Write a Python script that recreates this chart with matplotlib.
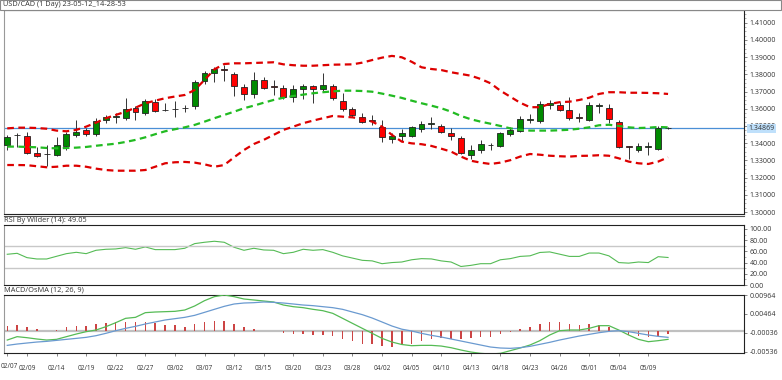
import numpy as np
import matplotlib.pyplot as plt
from matplotlib.patches import Rectangle
from matplotlib.ticker import FixedLocator, MultipleLocator, FormatStrFormatter

plt.rcParams['font.family'] = ['Open Sans', 'DejaVu Sans']

# daily candles USD/CAD
opens = [1.3390, 1.3445, 1.3444, 1.3345, 1.3337, 1.3331, 1.3384, 1.3446, 1.3477, 1.3452,
         1.3536, 1.3554, 1.3545, 1.3606, 1.3577, 1.3638, 1.3593, 1.3599, 1.3604, 1.3616,
         1.3760, 1.3810, 1.3831, 1.3802, 1.3728, 1.3688, 1.3765, 1.3730, 1.3719, 1.3667,
         1.3717, 1.3733, 1.3717, 1.3733, 1.3647, 1.3597, 1.3550, 1.3532, 1.3492, 1.3423,
         1.3442, 1.3442, 1.3481, 1.3513, 1.3497, 1.3457, 1.3428, 1.3330, 1.3360, 1.3387,
         1.3384, 1.3453, 1.3473, 1.3533, 1.3527, 1.3620, 1.3624, 1.3593, 1.3550, 1.3536,
         1.3618, 1.3606, 1.3524, 1.3381, 1.3360, 1.3380, 1.3366, 1.3489]
highs = [1.3448, 1.3457, 1.3467, 1.3380, 1.3390, 1.3438, 1.3467, 1.3535, 1.3487, 1.3545,
         1.3562, 1.3577, 1.3661, 1.3618, 1.3655, 1.3655, 1.3635, 1.3647, 1.3624, 1.3767,
         1.3820, 1.3845, 1.3854, 1.3813, 1.3746, 1.3813, 1.3784, 1.3767, 1.3740, 1.3738,
         1.3744, 1.3736, 1.3806, 1.3744, 1.3690, 1.3612, 1.3574, 1.3562, 1.3535, 1.3461,
         1.3484, 1.3500, 1.3531, 1.3550, 1.3510, 1.3487, 1.3442, 1.3390, 1.3419, 1.3399,
         1.3467, 1.3496, 1.3558, 1.3568, 1.3647, 1.3651, 1.3639, 1.3667, 1.3574, 1.3638,
         1.3635, 1.3626, 1.3535, 1.3384, 1.3399, 1.3409, 1.3500, 1.3492]
lows = [1.3360, 1.3376, 1.3335, 1.3322, 1.3269, 1.3325, 1.3360, 1.3438, 1.3442, 1.3442,
        1.3515, 1.3515, 1.3535, 1.3535, 1.3562, 1.3583, 1.3587, 1.3554, 1.3583, 1.3597,
        1.3744, 1.3754, 1.3761, 1.3676, 1.3651, 1.3661, 1.3713, 1.3680, 1.3655, 1.3641,
        1.3655, 1.3632, 1.3703, 1.3651, 1.3589, 1.3554, 1.3515, 1.3506, 1.3407, 1.3400,
        1.3414, 1.3435, 1.3467, 1.3483, 1.3457, 1.3419, 1.3335, 1.3308, 1.3341, 1.3360,
        1.3376, 1.3442, 1.3467, 1.3519, 1.3519, 1.3597, 1.3585, 1.3535, 1.3525, 1.3529,
        1.3574, 1.3515, 1.3371, 1.3308, 1.3351, 1.3332, 1.3360, 1.3482]
closes = [1.3438, 1.3448, 1.3341, 1.3327, 1.3335, 1.3390, 1.3453, 1.3467, 1.3453, 1.3529,
          1.3550, 1.3556, 1.3597, 1.3579, 1.3643, 1.3589, 1.3591, 1.3598, 1.3607, 1.3755,
          1.3810, 1.3829, 1.3828, 1.3734, 1.3688, 1.3765, 1.3722, 1.3729, 1.3668, 1.3713,
          1.3733, 1.3717, 1.3740, 1.3664, 1.3600, 1.3562, 1.3523, 1.3529, 1.3438, 1.3442,
          1.3457, 1.3492, 1.3510, 1.3515, 1.3464, 1.3442, 1.3341, 1.3360, 1.3394, 1.3389,
          1.3457, 1.3477, 1.3539, 1.3542, 1.3626, 1.3634, 1.3593, 1.3548, 1.3548, 1.3622,
          1.3619, 1.3542, 1.3380, 1.3379, 1.3384, 1.3381, 1.3490, 1.34869]

# bollinger bands (20, 2) as shown
bb_upper = [1.3486, 1.3490, 1.3490, 1.3488, 1.3484, 1.3473, 1.3469, 1.3477, 1.3496, 1.3519,
            1.3545, 1.3564, 1.3583, 1.3606, 1.3632, 1.3647, 1.3661, 1.3671, 1.3680, 1.3709,
            1.3767, 1.3829, 1.3860, 1.3864, 1.3864, 1.3866, 1.3868, 1.3870, 1.3858, 1.3853,
            1.3850, 1.3850, 1.3853, 1.3856, 1.3857, 1.3858, 1.3868, 1.3883, 1.3897, 1.3907,
            1.3899, 1.3873, 1.3841, 1.3831, 1.3825, 1.3812, 1.3802, 1.3792, 1.3773, 1.3748,
            1.3705, 1.3670, 1.3635, 1.3609, 1.3609, 1.3628, 1.3638, 1.3641, 1.3651, 1.3664,
            1.3686, 1.3696, 1.3696, 1.3693, 1.3693, 1.3692, 1.3690, 1.3686]
bb_middle = [1.3380, 1.3380, 1.3378, 1.3376, 1.3372, 1.3370, 1.3372, 1.3374, 1.3378, 1.3385,
             1.3391, 1.3397, 1.3407, 1.3419, 1.3434, 1.3452, 1.3469, 1.3481, 1.3492, 1.3506,
             1.3525, 1.3545, 1.3564, 1.3583, 1.3603, 1.3618, 1.3635, 1.3651, 1.3664, 1.3674,
             1.3682, 1.3690, 1.3696, 1.3701, 1.3705, 1.3705, 1.3703, 1.3699, 1.3688, 1.3676,
             1.3663, 1.3647, 1.3632, 1.3618, 1.3603, 1.3583, 1.3558, 1.3539, 1.3525, 1.3513,
             1.3500, 1.3486, 1.3478, 1.3473, 1.3473, 1.3473, 1.3475, 1.3478, 1.3484, 1.3492,
             1.3504, 1.3507, 1.3500, 1.3492, 1.3488, 1.3490, 1.3494, 1.3492]
bb_lower = [1.3273, 1.3273, 1.3272, 1.3266, 1.3260, 1.3263, 1.3269, 1.3269, 1.3263, 1.3252,
            1.3244, 1.3240, 1.3240, 1.3240, 1.3244, 1.3263, 1.3283, 1.3289, 1.3291, 1.3287,
            1.3277, 1.3263, 1.3273, 1.3318, 1.3360, 1.3395, 1.3419, 1.3448, 1.3477, 1.3496,
            1.3516, 1.3531, 1.3545, 1.3558, 1.3554, 1.3550, 1.3541, 1.3525, 1.3496, 1.3448,
            1.3409, 1.3399, 1.3394, 1.3384, 1.3368, 1.3351, 1.3322, 1.3298, 1.3287, 1.3279,
            1.3287, 1.3301, 1.3322, 1.3337, 1.3333, 1.3327, 1.3324, 1.3322, 1.3326, 1.3327,
            1.3330, 1.3327, 1.3312, 1.3293, 1.3283, 1.3279, 1.3293, 1.3318]

rsi = [54.8, 56.5, 48.8, 46.4, 46.4, 51.2, 55.9, 58.3, 55.9, 61.9,
       63.7, 64.3, 66.7, 63.7, 67.9, 63.1, 63.1, 63.1, 65.5, 73.8,
       76.2, 78.0, 76.2, 67.3, 61.9, 65.5, 62.5, 61.9, 55.9, 58.3,
       63.7, 61.9, 63.1, 58.3, 52.0, 48.0, 44.0, 43.0, 38.0, 40.0,
       41.0, 45.0, 47.0, 46.5, 43.0, 41.0, 33.0, 35.0, 38.0, 38.0,
       45.0, 47.0, 51.0, 52.0, 58.0, 59.0, 55.0, 51.0, 51.0, 57.0,
       57.0, 52.0, 40.0, 39.0, 41.0, 40.0, 50.5, 49.05]

macd_main = [-0.00227, -0.00138, -0.00165, -0.00200, -0.00227, -0.00209, -0.00138, -0.00068, -0.00006, 0.00038,
             0.00126, 0.00232, 0.00347, 0.00373, 0.00497, 0.00514, 0.00523, 0.00532, 0.00567, 0.00673,
             0.00814, 0.00920, 0.00964, 0.00920, 0.00858, 0.00832, 0.00805, 0.00779, 0.00699, 0.00655,
             0.00629, 0.00585, 0.00549, 0.00479, 0.00347, 0.00214, 0.00082, -0.00050, -0.00183, -0.00280,
             -0.00345, -0.00377, -0.00368, -0.00368, -0.00386, -0.00430, -0.00491, -0.00544, -0.00579, -0.00597,
             -0.00579, -0.00509, -0.00438, -0.00359, -0.00244, -0.00094, 0.00020, 0.00038, 0.00038, 0.00082,
             0.00153, 0.00153, 0.00038, -0.00094, -0.00209, -0.00271, -0.00244, -0.00209]
macd_signal = [-0.00368, -0.00333, -0.00306, -0.00280, -0.00262, -0.00236, -0.00209, -0.00183, -0.00156, -0.00112,
               -0.00050, 0.00020, 0.00082, 0.00135, 0.00197, 0.00250, 0.00303, 0.00338, 0.00373, 0.00426,
               0.00505, 0.00585, 0.00664, 0.00726, 0.00752, 0.00761, 0.00779, 0.00770, 0.00752, 0.00726,
               0.00699, 0.00682, 0.00655, 0.00629, 0.00585, 0.00514, 0.00444, 0.00355, 0.00250, 0.00144,
               0.00060, 0.00012, -0.00050, -0.00103, -0.00147, -0.00200, -0.00253, -0.00306, -0.00359, -0.00412,
               -0.00438, -0.00447, -0.00429, -0.00394, -0.00341, -0.00288, -0.00227, -0.00174, -0.00121, -0.00077,
               -0.00033, 0.00003, 0.00020, -0.00006, -0.00050, -0.00094, -0.00130, -0.00156]
osma = [0.0015, 0.0017, 0.0012, 0.0006, 0.0002, 0.00045, 0.0011, 0.0015, 0.0015, 0.0019,
        0.0022, 0.0025, 0.0026, 0.0024, 0.0026, 0.0022, 0.0018, 0.0016, 0.0013, 0.0019,
        0.0025, 0.0028, 0.0028, 0.0019, 0.0011, 0.0007, 0.0002, 0.0, -0.0005, -0.0007,
        -0.0007, -0.0009, -0.0010, -0.0013, -0.0020, -0.0026, -0.0032, -0.0034, -0.0038, -0.0040,
        -0.0034, -0.0032, -0.0026, -0.0020, -0.0018, -0.0020, -0.0020, -0.0018, -0.0016, -0.0014,
        -0.0007, -0.0001, 0.0006, 0.0012, 0.0021, 0.0026, 0.0025, 0.0021, 0.0018, 0.0019,
        0.0018, 0.0011, 0.0, -0.0009, -0.0012, -0.0016, -0.0011, -0.0007]

date_labels = ["02/07", "02/09", "02/14", "02/19", "02/22", "02/27", "03/02", "03/07",
               "03/12", "03/15", "03/20", "03/23", "03/28", "04/02", "04/05", "04/10",
               "04/13", "04/18", "04/23", "04/26", "05/01", "05/04", "05/09"]
date_pos = [0] + list(range(2, 68, 3))

last_price = 1.34869

W, H = 782, 380
fig = plt.figure(figsize=(W / 100, H / 100), dpi=100)
fig.patch.set_facecolor('white')


def px_axes(x0, y0, x1, y1):
    # pixel box -> figure axes
    return fig.add_axes([x0 / W, 1 - y1 / H, (x1 - x0) / W, (y1 - y0) / H])


ax = px_axes(4, 10, 744, 214)
ax_rsi = px_axes(4, 225, 744, 285)
ax_macd = px_axes(4, 295, 744, 353)

x = np.arange(len(closes))
o = np.array(opens)
c = np.array(closes)
up = c >= o
txt_col = '#333333'

# --- main panel ---
ax.vlines(x, lows, highs, color='#333333', lw=0.7, zorder=2)
body_bottom = np.minimum(o, c)
body_h = np.abs(c - o)
ax.bar(x[up], body_h[up], bottom=body_bottom[up], width=0.6, color='#008a00',
       edgecolor='#222222', linewidth=0.6, zorder=3)
ax.bar(x[~up], body_h[~up], bottom=body_bottom[~up], width=0.6, color='#ff0000',
       edgecolor='#222222', linewidth=0.6, zorder=3)

ax.plot(x, bb_upper, color='#dd0000', lw=1.6, ls=(0, (3, 2)), zorder=4)
ax.plot(x, bb_lower, color='#dd0000', lw=1.6, ls=(0, (3, 2)), zorder=4)
ax.plot(x, bb_middle, color='#22bb22', lw=1.6, ls=(0, (3, 2)), zorder=4)
ax.axhline(last_price, color='#4a8fd6', lw=0.9, zorder=1)

ax.set_xlim(-0.33, 74.7)
ax.set_ylim(1.29884, 1.41738)
ax.yaxis.tick_right()
ax.yaxis.set_major_locator(FixedLocator(np.arange(1.30, 1.4101, 0.01)))
ax.yaxis.set_minor_locator(MultipleLocator(0.0025))
ax.yaxis.set_major_formatter(FormatStrFormatter('%.5f'))
ax.set_xticks([])
ax.text(1.006, last_price, '1.34869', transform=ax.get_yaxis_transform(), fontsize=5,
        color=txt_col, va='center', ha='left', zorder=6,
        bbox=dict(boxstyle='square,pad=0.15', fc='#bfe0fb', ec='none'))

# --- RSI panel ---
ax_rsi.plot(x, rsi, color='#55bb55', lw=0.8)
ax_rsi.axhline(70, color='#c8c8c8', lw=1.0)
ax_rsi.axhline(30, color='#c8c8c8', lw=1.0)
ax_rsi.set_xlim(-0.33, 74.7)
ax_rsi.set_ylim(0, 107)
ax_rsi.yaxis.tick_right()
ax_rsi.yaxis.set_major_locator(FixedLocator([0, 20, 40, 60, 80, 100]))
ax_rsi.yaxis.set_minor_locator(MultipleLocator(10))
ax_rsi.yaxis.set_major_formatter(FormatStrFormatter('%.2f'))
ax_rsi.set_xticks([])

# --- MACD / OsMA panel ---
ax_macd.axhline(0, color='#c0c0c0', lw=1.6, zorder=1)
ax_macd.bar(x, osma, width=0.15, color='#cc4444', zorder=2)
ax_macd.plot(x, macd_main, color='#55bb55', lw=0.9, zorder=3)
ax_macd.plot(x, macd_signal, color='#6a9ad0', lw=0.9, zorder=3)
ax_macd.set_xlim(-0.33, 74.7)
ax_macd.set_ylim(-0.0057, 0.00964)
ax_macd.yaxis.tick_right()
ax_macd.yaxis.set_major_locator(FixedLocator([0.00964, 0.00464, -0.00036, -0.00536]))
ax_macd.yaxis.set_major_formatter(FormatStrFormatter('%.5f'))
ax_macd.set_xticks(date_pos)
# first date label sits against the left edge, drawn separately
ax_macd.set_xticklabels([''] + date_labels[1:])

for a in (ax, ax_rsi, ax_macd):
    for s in a.spines.values():
        s.set_color('#222222')
        s.set_linewidth(0.8)
    a.spines['left'].set_color('#999999')
    a.tick_params(axis='both', which='major', labelsize=5, colors='#555555',
                  labelcolor=txt_col, length=2.5, width=0.5, pad=1.5)
    a.tick_params(axis='y', which='minor', length=1.5, width=0.4, colors='#777777')
ax_macd.tick_params(axis='x', pad=6, labelsize=4.7)

fig.text(0.5 / W, 1 - 367 / H, date_labels[0], fontsize=4.7, color=txt_col,
         va='center', ha='left')

# title strips
fig.add_artist(Rectangle((0, 1 - 10 / H), 1 - 1 / W, 10 / H, transform=fig.transFigure,
                         fc='white', ec='#888888', lw=0.8))
fig.text(3 / W, 1 - 5 / H, 'USD/CAD (1 Day) 23-05-12_14-28-53', fontsize=5.3,
         color=txt_col, va='center', ha='left')
fig.text(4 / W, 1 - 220 / H, 'RSI By Wilder (14): 49.05', fontsize=5.3,
         color=txt_col, va='center', ha='left')
fig.text(4 / W, 1 - 290 / H, 'MACD/OsMA (12, 26, 9)', fontsize=5.3,
         color=txt_col, va='center', ha='left')
fig.add_artist(plt.Line2D([4 / W, 744 / W], [1 - 216 / H, 1 - 216 / H],
                          transform=fig.transFigure, color='#555555', lw=0.8))

fig.savefig('out.png', dpi=100, facecolor='white')
